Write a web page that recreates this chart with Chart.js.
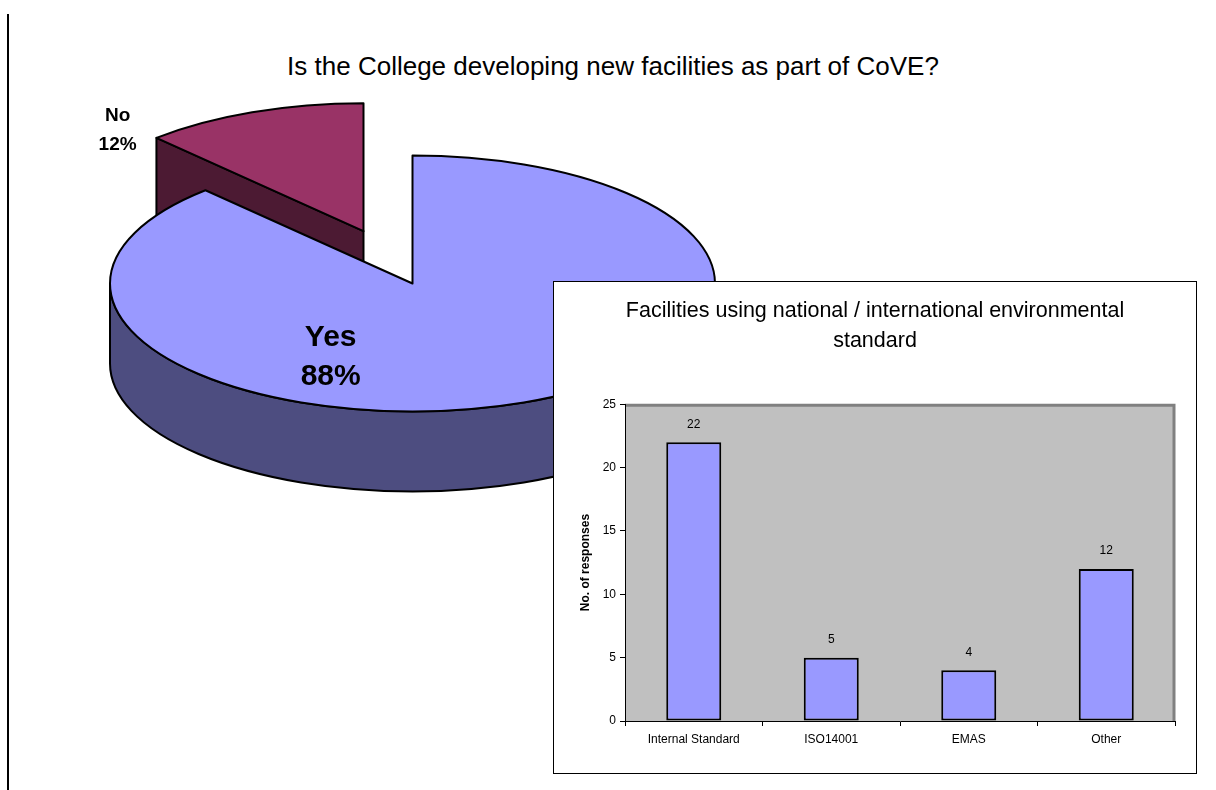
<!DOCTYPE html>
<html>
<head>
<meta charset="utf-8">
<script src="https://cdn.jsdelivr.net/npm/chart.js@4.4.1/dist/chart.umd.min.js"></script>
<style>
  body { margin: 0; width: 1216px; height: 790px; background: #fff; position: relative; overflow: hidden;
         font-family: "Liberation Sans", Arial, sans-serif; }
  #rule { position: absolute; left: 7px; top: 14px; width: 2px; height: 776px; background: #000; }
  #pieTitle { position: absolute; left: 0; width: 1226px; top: 51px; text-align: center; font-size: 26px; color: #000; }
  #pieWrap { position: absolute; left: 60px; top: -19px; width: 705px; height: 700px; }
  #barBox { position: absolute; left: 553px; top: 281px; width: 642px; height: 491px; border: 1px solid #000; background: #fff; }
</style>
</head>
<body>
<div id="rule"></div>
<div id="pieTitle">Is the College developing new facilities as part of CoVE?</div>
<div id="pieWrap"><canvas id="pieChart" width="705" height="700"></canvas></div>
<div id="barBox"><canvas id="barChart" width="642" height="491"></canvas></div>

<script>
// Survey answers (percent of colleges)
const answers = ["Yes", "No"];
const answerShares = [88, 12];
const answerColors = ["#9999FF", "#993366"];
const answerSideColors = ["#4D4D80", "#4C1A33"];

// Environmental standards used by facilities
const standards = ["Internal Standard", "ISO14001", "EMAS", "Other"];
const responses = [22, 5, 4, 12];
const responseTicks = [0, 5, 10, 15, 20, 25];

const FONT = '"Liberation Sans", Arial, sans-serif';

// Draws the pie as a tilted, extruded disc using the arc geometry Chart.js computed
const pie3d = {
  id: "pie3d",
  beforeDatasetsDraw(chart, args, opts) {
    const ctx = chart.ctx;
    const ds = chart.data.datasets[0];
    const total = ds.data.reduce((a, b) => a + b, 0);
    const k = opts.tilt;
    const depth = opts.depth;

    const slices = chart.getDatasetMeta(0).data.map((arc, i) => {
      const p = arc.getProps(["x", "y", "startAngle", "endAngle", "outerRadius"], true);
      const mid = (p.startAngle + p.endAngle) / 2;
      const ex = (opts.explode[i] || 0) * p.outerRadius;
      return {
        i, r: p.outerRadius, a0: p.startAngle, a1: p.endAngle, mid,
        cx: p.x + Math.cos(mid) * ex,
        cy: p.y + Math.sin(mid) * ex * k
      };
    });

    // back slices first
    const order = slices.slice().sort((s, t) => Math.sin(s.mid) - Math.sin(t.mid));

    ctx.save();
    ctx.lineJoin = "round";
    ctx.lineWidth = opts.lineWidth;
    ctx.strokeStyle = "#000";

    order.forEach(s => {
      const top = ds.backgroundColor[s.i];
      const side = opts.sideColors[s.i];
      const pt = a => [s.cx + s.r * Math.cos(a), s.cy + s.r * k * Math.sin(a)];

      // cut faces that turn towards the viewer
      [[s.a0, Math.cos(s.a0) < -1e-6], [s.a1, Math.cos(s.a1) > 1e-6]].forEach(([a, visible]) => {
        if (!visible) return;
        const [x, y] = pt(a);
        ctx.beginPath();
        ctx.moveTo(s.cx, s.cy);
        ctx.lineTo(x, y);
        ctx.lineTo(x, y + depth);
        ctx.lineTo(s.cx, s.cy + depth);
        ctx.closePath();
        ctx.fillStyle = side;
        ctx.fill();
        ctx.stroke();
      });

      // rim, front half only
      for (let n = -1; n <= 1; n++) {
        const lo = Math.max(s.a0, n * 2 * Math.PI);
        const hi = Math.min(s.a1, n * 2 * Math.PI + Math.PI);
        if (hi <= lo) continue;
        ctx.beginPath();
        ctx.ellipse(s.cx, s.cy, s.r, s.r * k, 0, lo, hi);
        ctx.ellipse(s.cx, s.cy + depth, s.r, s.r * k, 0, hi, lo, true);
        ctx.closePath();
        ctx.fillStyle = side;
        ctx.fill();
        ctx.stroke();
      }

      // top face
      ctx.beginPath();
      ctx.moveTo(s.cx, s.cy);
      ctx.ellipse(s.cx, s.cy, s.r, s.r * k, 0, s.a0, s.a1);
      ctx.closePath();
      ctx.fillStyle = top;
      ctx.fill();
      ctx.stroke();
    });

    // category + percentage labels
    ctx.fillStyle = "#000";
    ctx.textAlign = "center";
    ctx.textBaseline = "middle";
    slices.forEach(s => {
      const lab = opts.labels[s.i];
      const a = lab.angle * Math.PI / 180;
      const x = s.cx + Math.cos(a) * lab.r * s.r;
      const y = s.cy + Math.sin(a) * lab.r * s.r * k;
      const pct = Math.round(ds.data[s.i] / total * 100) + "%";
      ctx.font = "bold " + lab.size + "px " + FONT;
      ctx.fillText(chart.data.labels[s.i], x, y - lab.gap / 2);
      ctx.fillText(pct, x, y + lab.gap / 2);
    });

    ctx.restore();
    return false;
  }
};

new Chart(document.getElementById("pieChart"), {
  type: "pie",
  data: {
    labels: answers,
    datasets: [{ data: answerShares, backgroundColor: answerColors, borderWidth: 0 }]
  },
  options: {
    responsive: false,
    animation: false,
    events: [],
    layout: { padding: { left: 50, right: 50, top: 0, bottom: 95 } },
    plugins: {
      legend: { display: false },
      tooltip: { enabled: false },
      pie3d: {
        tilt: 0.423,
        depth: 80,
        lineWidth: 2,
        explode: [0, 0.44],
        sideColors: answerSideColors,
        labels: [
          { angle: 115, r: 0.64, size: 30, gap: 39 },
          { angle: 224, r: 1.13, size: 19, gap: 29 }
        ]
      }
    }
  },
  plugins: [pie3d]
});

// grey plot background with the darker frame on top and right
const plotBackground = {
  id: "plotBackground",
  beforeDraw(chart) {
    const { ctx, chartArea: a } = chart;
    ctx.save();
    ctx.fillStyle = "#C0C0C0";
    ctx.fillRect(a.left, a.top, a.right - a.left, a.bottom - a.top);
    ctx.strokeStyle = "#808080";
    ctx.lineWidth = 3;
    ctx.beginPath();
    ctx.moveTo(a.left, a.top + 1);
    ctx.lineTo(a.right - 1, a.top + 1);
    ctx.lineTo(a.right - 1, a.bottom);
    ctx.stroke();
    ctx.restore();
  }
};

// value printed above each bar
const barValues = {
  id: "barValues",
  afterDatasetsDraw(chart) {
    const ctx = chart.ctx;
    const ds = chart.data.datasets[0];
    ctx.save();
    ctx.fillStyle = "#000";
    ctx.font = "12px " + FONT;
    ctx.textAlign = "center";
    ctx.textBaseline = "middle";
    chart.getDatasetMeta(0).data.forEach((bar, i) => {
      ctx.fillText(ds.data[i], bar.x, bar.y - 18);
    });
    ctx.restore();
  }
};

new Chart(document.getElementById("barChart"), {
  type: "bar",
  data: {
    labels: standards,
    datasets: [{
      data: responses,
      backgroundColor: "#9999FF",
      borderColor: "#000",
      borderWidth: 2,
      borderSkipped: false,
      barPercentage: 0.4,
      categoryPercentage: 1.0
    }]
  },
  options: {
    responsive: false,
    animation: false,
    events: [],
    layout: { padding: { left: 21, right: 21, top: 0, bottom: 0 } },
    plugins: {
      legend: { display: false },
      tooltip: { enabled: false },
      title: {
        display: true,
        text: ["Facilities using national / international environmental", "standard"],
        color: "#000",
        font: { family: FONT, size: 21.5, weight: "normal", lineHeight: 1.4 },
        padding: { top: 14, bottom: 48 }
      }
    },
    scales: {
      x: {
        grid: { offset: true, drawOnChartArea: false, tickLength: 5, color: "#000" },
        border: { color: "#000", width: 1 },
        ticks: { color: "#000", font: { family: FONT, size: 12 }, padding: 6, maxRotation: 0 },
        afterFit(scale) { scale.height = 52; }
      },
      y: {
        min: 0,
        max: 25,
        afterBuildTicks(scale) { scale.ticks = responseTicks.map(v => ({ value: v })); },
        grid: { drawOnChartArea: false, tickLength: 5, color: "#000" },
        border: { color: "#000", width: 1 },
        ticks: { color: "#000", font: { family: FONT, size: 12 }, padding: 4 },
        title: {
          display: true,
          text: "No. of responses",
          color: "#000",
          font: { family: FONT, size: 12, weight: "bold" },
          padding: { top: 3, bottom: 0 }
        },
        afterFit(scale) { scale.width = 50; }
      }
    }
  },
  plugins: [plotBackground, barValues]
});
</script>
</body>
</html>
